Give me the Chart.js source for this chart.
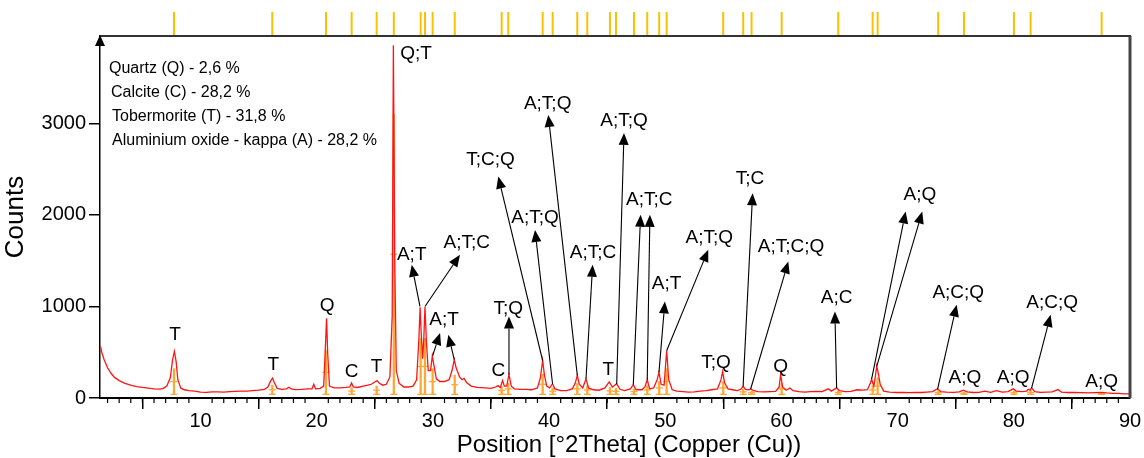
<!DOCTYPE html>
<html><head><meta charset="utf-8">
<script src="https://cdn.jsdelivr.net/npm/chart.js@4.4.1/dist/chart.umd.min.js"></script>
<style>html,body{margin:0;padding:0;background:#fff}#wrap{width:1144px;height:458px}</style>
</head><body><div id="wrap"><canvas id="c" width="1144" height="458"></canvas></div>
<script>
// ---- data ----
const twoTheta = [1.4,1.5,1.7,2.0,2.3,2.6,3.0,3.5,4.0,4.5,5.0,5.5,6.0,6.5,6.8,7.1,7.4,7.6,7.75,7.9,8.05,8.3,8.6,9.0,9.5,10.0,10.5,11.0,11.5,12.0,12.5,13.0,13.5,14.0,14.5,15.0,15.5,15.8,16.05,16.2,16.35,16.6,17.0,17.4,17.6,17.8,18.2,18.7,19.2,19.6,19.75,19.9,20.3,20.6,20.75,20.85,20.95,21.1,21.5,22.0,22.5,22.85,23.0,23.15,23.5,24.0,24.4,24.7,25.0,25.2,25.4,25.7,26.0,26.3,26.5,26.6,26.72,26.85,27.1,27.5,27.9,28.3,28.6,28.8,28.9,29.0,29.12,29.22,29.32,29.45,29.6,29.8,29.95,30.1,30.3,30.6,31.0,31.4,31.65,31.84,32.0,32.3,32.5,32.68,32.9,33.3,33.8,34.5,35.0,35.4,35.6,35.8,36.0,36.15,36.35,36.55,36.75,37.0,37.5,38.0,38.5,39.0,39.25,39.45,39.6,39.8,40.05,40.3,40.5,41.0,41.5,42.0,42.25,42.43,42.6,42.9,43.18,43.4,43.8,44.3,44.8,45.18,45.45,45.82,46.1,46.5,47.0,47.25,47.5,48.0,48.25,48.45,48.65,49.0,49.3,49.46,49.65,49.9,50.12,50.3,50.6,51.0,51.5,52.0,52.5,53.0,53.5,54.0,54.5,54.8,54.94,55.1,55.4,55.8,56.2,56.5,56.7,56.9,57.2,57.35,57.6,58.0,58.5,59.0,59.5,59.8,59.93,60.1,60.4,60.73,61.0,61.5,62.0,62.5,63.0,63.5,64.03,64.3,64.75,65.0,65.5,66.0,66.5,67.0,67.4,67.65,67.76,67.95,68.1,68.2,68.35,68.5,68.8,69.3,70.0,70.5,71.0,71.5,72.0,72.5,73.0,73.44,73.7,74.2,74.8,75.3,75.65,76.0,76.5,77.0,77.5,78.0,78.5,79.0,79.5,79.95,80.2,80.7,81.1,81.24,81.4,81.53,81.8,82.3,82.8,83.3,83.8,84.1,84.6,85.2,85.8,86.4,87.0,87.55,88.0,88.5,89.0,89.5,90.0];
const counts = [560,500,420,330,270,225,190,160,140,125,115,108,100,98,105,130,220,420,510,400,200,110,90,80,75,65,62,66,68,64,70,72,75,76,80,85,95,120,190,218,170,105,95,100,118,100,92,95,100,100,150,100,105,130,560,870,480,130,110,110,115,120,165,120,115,130,140,150,175,190,160,140,150,230,900,3855,1500,300,160,120,120,130,200,650,990,700,430,650,995,600,300,300,460,350,210,180,180,200,300,420,330,230,200,215,170,130,115,110,105,120,135,115,190,130,130,255,130,100,95,95,90,110,220,410,250,130,110,156,100,80,80,100,160,248,150,110,210,110,90,85,110,175,120,155,95,80,100,145,90,90,120,200,100,110,200,280,150,140,516,200,90,75,70,65,68,75,80,90,100,200,290,170,100,90,80,95,127,95,90,100,80,70,68,70,72,120,255,120,85,110,80,70,65,70,72,70,100,75,110,80,70,72,90,85,90,160,207,130,250,350,260,150,75,65,60,62,58,62,60,65,70,100,70,65,62,68,85,68,60,62,75,62,80,65,70,100,75,70,75,95,85,110,70,62,65,68,92,65,60,62,58,55,58,62,55,50,50,45,45];
// reference pattern (phase stick positions and stick heights)
const refPositions = [7.72,16.18,20.8,23.01,25.16,26.64,28.95,29.32,29.98,31.88,35.92,36.49,39.45,40.31,42.43,43.29,45.24,45.76,47.31,48.45,49.48,50.12,54.99,56.71,57.43,60.02,64.89,67.85,68.28,73.49,75.71,80.01,81.45,87.56];
const refTops = [320,140,520,110,130,3100,650,650,320,250,125,160,260,110,160,135,115,105,100,135,180,320,180,95,75,160,80,135,220,75,65,75,80,50];
const stickBase = 40;
const xTicks = [10,20,30,40,50,60,70,80,90];
const yTicks = [0,1000,2000,3000];
const phaseLegend = ["Quartz (Q) - 2,6 %","Calcite (C) - 28,2 %","Tobermorite (T) - 31,8 %","Aluminium oxide - kappa (A) - 28,2 %"];
const peakLabelText = ["T","T","Q","C","T","Q;T","A;T","A;T;C","A;T","C","T;Q","T;C;Q","A;T;Q","A;T;Q","A;T;C","T","A;T;Q","A;T;C","A;T","A;T;Q","T;Q","T;C","A;T;C;Q","Q","A;C","A;Q","A;C;Q","A;C;Q","A;Q","A;Q","A;Q"];

// ---- layout config for labels (data coordinates) ----
const labelPos = [[7.81,691],[16.27,364],[20.89,1008],[23.01,290],[25.16,345],[28.55,3759],[28.18,1564],[32.91,1692],[30.96,855],[35.63,301],[36.49,972],[34.97,2602],[39.88,3213],[38.79,1965],[43.78,1583],[45.1,309],[46.45,3031],[48.62,2165],[50.12,1248],[53.79,1747],[54.36,382],[57.29,2394],[60.82,1648],[59.93,345],[64.75,1092],[71.92,2219],[75.22,1146],[83.3,1044],[75.79,218],[79.95,218],[87.56,181]];
const labelArrows = [[],[],[],[],[],[],
 [[28.89,1000,28.18,1455]],
 [[29.32,1000,32.33,1564]],
 [[29.98,462,30.62,710],[31.84,418,31.33,691]],
 [],
 [[36.55,254,36.55,891]],
 [[39.45,407,35.63,2419]],
 [[42.43,247,39.93,3093]],
 [[40.3,156,38.79,1836]],
 [[43.18,210,43.75,1455]],
 [],
 [[45.82,153,46.45,2896]],
 [[47.25,145,47.88,2001],[48.45,200,48.68,2001]],
 [[49.46,280,49.97,1055]],
 [[50.12,516,53.7,1619]],
 [],
 [[56.7,127,57.52,2238]],
 [[57.35,98,60.59,1491]],
 [],
 [[64.75,109,64.6,945]],
 [[67.76,207,70.69,2037],[68.2,345,72.12,2037]],
 [[73.44,98,75.08,1019]],
 [[81.53,109,83.17,909]],
 [],[],[]];

const FONT = "'Liberation Sans', Arial, Helvetica, sans-serif";
Chart.defaults.font.family = FONT;
Chart.defaults.color = '#000';

const decor = {
  id: 'decor',
  afterDraw(chart) {
    const {ctx, chartArea: ca, scales: {x, y}} = chart;
    ctx.save();
    // reference sticks above the plot
    ctx.strokeStyle = '#f8c200'; ctx.lineWidth = 2;
    refPositions.forEach(p => {
      const px = x.getPixelForValue(p);
      ctx.beginPath(); ctx.moveTo(px, ca.top - 24); ctx.lineTo(px, ca.top); ctx.stroke();
    });
    // frame top + right
    ctx.strokeStyle = '#333'; ctx.lineWidth = 2;
    ctx.beginPath(); ctx.moveTo(ca.left, ca.top); ctx.lineTo(ca.right + 1, ca.top); ctx.stroke();
    ctx.strokeStyle = '#444'; ctx.lineWidth = 3;
    ctx.beginPath(); ctx.moveTo(ca.right, ca.top); ctx.lineTo(ca.right, ca.bottom); ctx.stroke();
    // minor ticks on x
    ctx.strokeStyle = '#000'; ctx.lineWidth = 1.2;
    for (let v = Math.ceil(x.min); v < x.max; v++) {
      if (v % 10 === 0) continue;
      const px = x.getPixelForValue(v);
      ctx.beginPath(); ctx.moveTo(px, ca.bottom); ctx.lineTo(px, ca.bottom + 5); ctx.stroke();
    }
    // y axis arrow
    ctx.fillStyle = '#000';
    ctx.beginPath(); ctx.moveTo(ca.left, ca.top - 1); ctx.lineTo(ca.left - 5, ca.top + 10); ctx.lineTo(ca.left + 5, ca.top + 10); ctx.closePath(); ctx.fill();
    // phase legend
    ctx.font = '16px ' + FONT; ctx.textAlign = 'left'; ctx.textBaseline = 'alphabetic';
    const lx = [ca.left + 9, ca.left + 11, ca.left + 12, ca.left + 12];
    const ly = [ca.top + 37, ca.top + 61, ca.top + 85, ca.top + 109];
    phaseLegend.forEach((t, i) => ctx.fillText(t, lx[i], ly[i]));
    // arrows
    ctx.strokeStyle = '#000'; ctx.lineWidth = 1.1;
    labelArrows.forEach(list => list.forEach(a => {
      const x0 = x.getPixelForValue(a[0]), y0 = y.getPixelForValue(a[1]);
      const x1 = x.getPixelForValue(a[2]), y1 = y.getPixelForValue(a[3]);
      const ang = Math.atan2(y1 - y0, x1 - x0);
      const L = 12, W = 5;
      const bx = x1 - L * Math.cos(ang), by = y1 - L * Math.sin(ang);
      ctx.beginPath(); ctx.moveTo(x0, y0); ctx.lineTo(bx, by); ctx.stroke();
      ctx.beginPath(); ctx.moveTo(x1, y1);
      ctx.lineTo(bx + W * Math.sin(ang), by - W * Math.cos(ang));
      ctx.lineTo(bx - W * Math.sin(ang), by + W * Math.cos(ang));
      ctx.closePath(); ctx.fill();
    }));
    // peak labels
    ctx.font = '19px ' + FONT; ctx.textAlign = 'center'; ctx.textBaseline = 'middle';
    peakLabelText.forEach((t, i) => {
      ctx.fillText(t, x.getPixelForValue(labelPos[i][0]), y.getPixelForValue(labelPos[i][1]));
    });
    // x title
    ctx.font = '24px ' + FONT; ctx.textBaseline = 'alphabetic';
    ctx.fillText('Position [°2Theta] (Copper (Cu))', (ca.left + ca.right) / 2 + 14, 452);
    ctx.restore();
  }
};

const lineData = twoTheta.map((v, i) => ({x: v, y: counts[i]}));
const stickData = refPositions.map((v, i) => ({x: v, y: [stickBase, refTops[i]]}));
const stickTicks = [];
refPositions.forEach((v, i) => { stickTicks.push({x: v, y: stickBase}); stickTicks.push({x: v, y: (stickBase + refTops[i]) / 2}); });

new Chart(document.getElementById('c'), {
  type: 'line',
  data: {
    datasets: [
      {type: 'line', data: lineData, borderColor: '#ff1414', borderWidth: 1.3, pointRadius: 0, tension: 0, order: 0},
      {type: 'scatter', data: stickTicks, pointStyle: 'line', pointRadius: 3.5, borderColor: '#ffa733', borderWidth: 1.3, order: 1},
      {type: 'bar', data: stickData, backgroundColor: '#ffa733', barThickness: 1.6, order: 2}
    ]
  },
  options: {
    responsive: false, devicePixelRatio: 1, animation: false,
    layout: {padding: {top: 36, right: 14, left: 0, bottom: 0}},
    plugins: {legend: {display: false}, tooltip: {enabled: false}},
    scales: {
      x: {
        type: 'linear', min: 1.35, max: 90, offset: false,
        grid: {drawOnChartArea: false, drawTicks: true, tickLength: 11, color: '#000', lineWidth: 1.5},
        border: {display: true, color: '#000', width: 2},
        ticks: {font: {size: 20}, color: '#000', padding: 0, maxRotation: 0, autoSkip: false, callback: v => String(v)},
        afterBuildTicks: s => { s.ticks = xTicks.map(v => ({value: v})); },
        afterFit: s => { s.height = 60; }
      },
      y: {
        min: 0, max: 3955,
        grid: {drawOnChartArea: false, drawTicks: true, tickLength: 11, color: '#000', lineWidth: 1.5},
        border: {display: true, color: '#000', width: 1.5},
        ticks: {font: {size: 20}, color: '#000', padding: 3, callback: v => String(v)},
        title: {display: true, text: 'Counts', font: {size: 26}, color: '#000', padding: {top: 0, bottom: 0}},
        afterBuildTicks: s => { s.ticks = yTicks.map(v => ({value: v})); },
        afterFit: s => { s.width = 100; }
      }
    }
  },
  plugins: [decor]
});
</script></body></html>
